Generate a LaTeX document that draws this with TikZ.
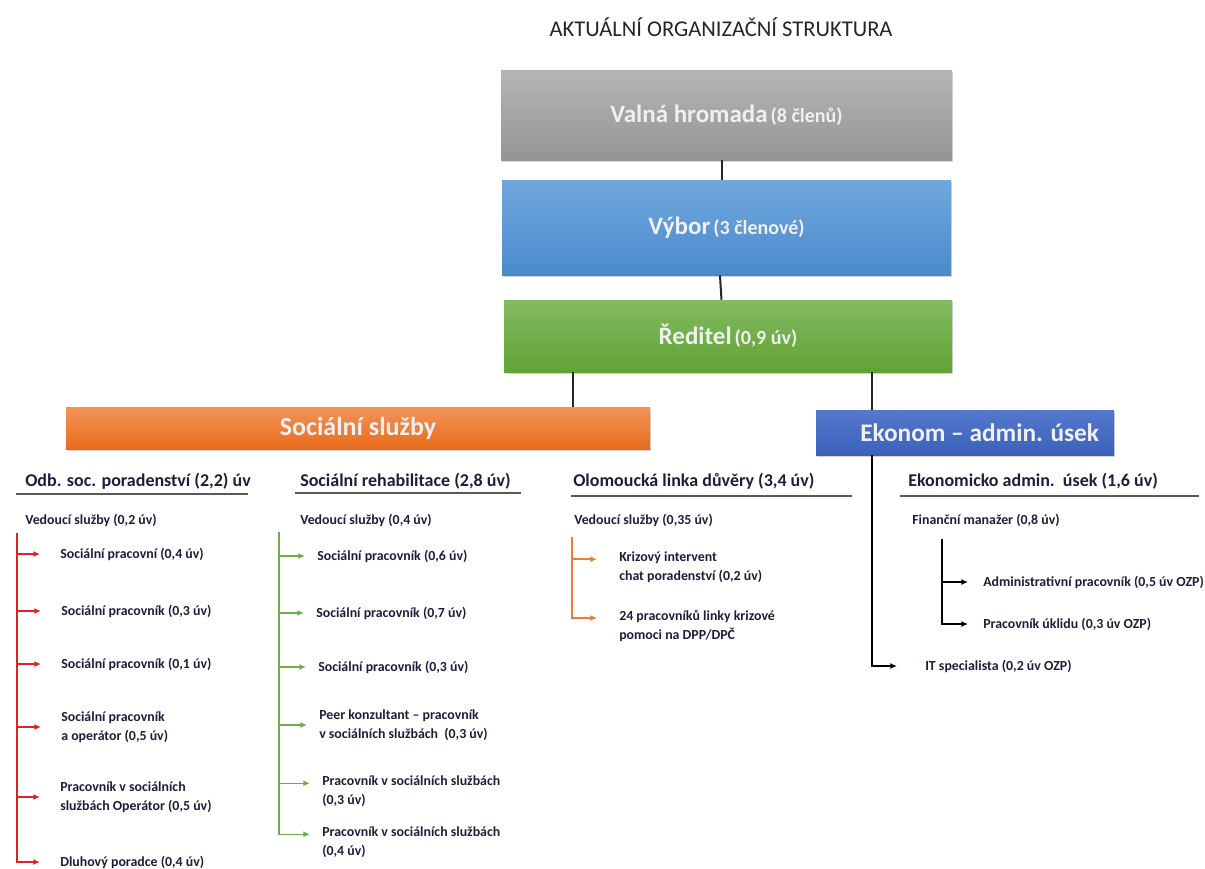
\documentclass[tikz,border=0pt]{standalone}
\usepackage{fontspec}
\setmainfont{Carlito}
\usetikzlibrary{arrows.meta,shadows}

\definecolor{ink}{HTML}{1C1F3B}
\definecolor{redln}{HTML}{E0202A}
\definecolor{greenln}{HTML}{70AD47}
\definecolor{orangeln}{HTML}{ED7D31}
\definecolor{greytop}{HTML}{B5B5B5}
\definecolor{greybot}{HTML}{959595}
\definecolor{bluetop}{HTML}{70A8DE}
\definecolor{bluebot}{HTML}{4A8ACB}
\definecolor{greentop}{HTML}{82BB60}
\definecolor{greenbot}{HTML}{62A235}
\definecolor{orangetop}{HTML}{F29459}
\definecolor{orangebot}{HTML}{E86B1A}
\definecolor{navytop}{HTML}{5378CC}
\definecolor{navybot}{HTML}{3C61BA}

\newcommand{\boxtext}[2]{{\fontsize{18.75}{22}\selectfont #1} {\fontsize{15}{18}\selectfont #2}}

\tikzset{
  orgbox/.style={inner sep=0pt, text=white!94!black, font=\bfseries,
    drop shadow={shadow xshift=1pt, shadow yshift=-1.2pt, opacity=.35}},
  lbl/.style={anchor=west, inner sep=0pt, align=left, text=ink,
    font=\bfseries\fontsize{10.4}{14}\selectfont},
  head/.style={anchor=west, inner sep=0pt, text=ink,
    font=\bfseries\fontsize{13.5}{16}\selectfont},
  hrule/.style={draw=black!65, line width=1.1pt},
  link/.style={draw=black!85, line width=1.5pt},
  tip/.style={-{Latex[length=5pt,width=4.5pt]}},
  redarr/.style={draw=redln, line width=1.1pt, tip, shorten >=15pt},
  greenarr/.style={draw=greenln, line width=1.1pt, tip, shorten >=9pt},
  orangearr/.style={draw=orangeln, line width=1.1pt, tip, shorten >=16.5pt},
  blackarr/.style={draw=black, line width=1.4pt, tip, shorten >=11.25pt},
}

\begin{document}
\begin{tikzpicture}[x=0.75pt,y=-0.75pt]
\useasboundingbox (0,0) rectangle (1205,868);

% title
\node[text=black!85, font=\fontsize{16.9}{20}\selectfont] (title) at (721,27) {AKTUÁLNÍ ORGANIZAČNÍ STRUKTURA};

% top boxes
\node[orgbox, top color=greytop, bottom color=greybot, minimum width=338.25pt, minimum height=67.5pt] (vh) at (726.5,115) {\boxtext{Valná hromada}{(8 členů)}};
\node[orgbox, top color=bluetop, bottom color=bluebot, minimum width=336.75pt, minimum height=71.25pt] (vy) at (726.5,227.5) {\boxtext{Výbor}{(3 členové)}};
\node[orgbox, top color=greentop, bottom color=greenbot, minimum width=336pt, minimum height=54pt] (red) at (728,336) {\boxtext{Ředitel}{(0,9 úv)}};
\node[orgbox, top color=orangetop, bottom color=orangebot, minimum width=438pt, minimum height=31.5pt, font=\bfseries\fontsize{19.5}{22}\selectfont] (soc) at (358,428) {Sociální služby};
\node[orgbox, top color=navytop, bottom color=navybot, minimum width=223.5pt, minimum height=33.75pt, font=\bfseries\fontsize{19}{22}\selectfont] (eko) at (965,432.5) {\hspace*{22pt}Ekonom -- admin. úsek};

\draw[link] ([xshift=-3.4pt]vh.south) -- ([xshift=-3.4pt]vy.north);
\draw[link] ([xshift=-4.9pt]vy.south) -- ([xshift=-4.9pt]red.north);
\draw[link] ([xshift=-116.25pt]red.south) -- ([xshift=161.25pt]soc.north);
\draw[link] ([xshift=108pt]red.south) -- ([xshift=-69.75pt]eko.north);

% column headers
\node[head] (h1) at (25,481) {Odb. soc. poradenství (2,2) úv};
\node[head] (h2) at (300,481) {Sociální rehabilitace (2,8 úv)};
\node[head] (h3) at (573,481) {Olomoucká linka důvěry (3,4 úv)};
\node[head] (h4) at (908,481) {Ekonomicko admin.\ \ úsek (1,6 úv)};
\draw[hrule] (16,494) -- (248,494);
\draw[hrule] (295,493) -- (521,493);
\draw[hrule] (571,496) -- (852,496);
\draw[hrule] (900,496) -- (1199,496);

% Odb. soc. poradenstvi
\node[lbl] (v1) at (25,520) {Vedoucí služby (0,2 úv)};
\coordinate (s1) at (17,533);
\node[lbl] (a1) at (60,554) {Sociální pracovní (0,4 úv)};
\node[lbl] (a2) at (61,611) {Sociální pracovník (0,3 úv)};
\node[lbl] (a3) at (61,664) {Sociální pracovník (0,1 úv)};
\node[lbl] (a4) at (61,727) {Sociální pracovník\\a operátor (0,5 úv)};
\node[lbl] (a5) at (60,797) {Pracovník v sociálních\\službách Operátor (0,5 úv)};
\node[lbl] (a6) at (60,862) {Dluhový poradce (0,4 úv)};
\draw[redarr] (s1) |- (a6.west);
\foreach \i in {1,...,5}
  \draw[redarr] (s1 |- a\i.west) -- (a\i.west);

% Socialni rehabilitace
\node[lbl] (v2) at (300,520) {Vedoucí služby (0,4 úv)};
\coordinate (s2) at (279,532);
\node[lbl] (b1) at (317,556) {Sociální pracovník (0,6 úv)};
\node[lbl] (b2) at (316,613) {Sociální pracovník (0,7 úv)};
\node[lbl] (b3) at (318,667) {Sociální pracovník (0,3 úv)};
\node[lbl] (b4) at (319,725) {Peer konzultant -- pracovník\\v sociálních službách\ \ (0,3 úv)};
\node[lbl] (b5) at (322,791) {Pracovník v sociálních službách\\(0,3 úv)};
\node[lbl] (b6) at (322,842) {Pracovník v sociálních službách\\(0,4 úv)};
\coordinate (b5in) at ([yshift=-5.8pt]b5.north west);
\coordinate (b6in) at ([yshift=-5.8pt]b6.north west);
\draw[greenarr] (s2) |- (b6in);
\foreach \i in {1,...,4}
  \draw[greenarr] (s2 |- b\i.west) -- (b\i.west);
\draw[greenarr] (s2 |- b5in) -- (b5in);

% Olomoucka linka duvery
\node[lbl] (v3) at (574,520) {Vedoucí služby (0,35 úv)};
\coordinate (s3) at (572,537);
\node[lbl] (c1) at (619,567) {Krizový intervent\\chat poradenství (0,2 úv)};
\node[lbl] (c2) at (619,626) {24 pracovníků linky krizové\\pomoci na DPP/DPČ};
\coordinate (c1in) at ([yshift=-5.8pt]c1.north west);
\coordinate (c2in) at ([yshift=-5.8pt]c2.north west);
\draw[orangearr] (s3) |- (c2in);
\draw[orangearr] (s3 |- c1in) -- (c1in);

% Ekonomicko admin. usek
\node[lbl] (v4) at (912,520) {Finanční manažer (0,8 úv)};
\coordinate (f0) at (942,539);
\node[lbl] (d1) at (983,582) {Administrativní pracovník (0,5 úv OZP)};
\node[lbl] (d2) at (983,624) {Pracovník úklidu (0,3 úv OZP)};
\node[lbl] (it) at (925,666) {IT specialista (0,2 úv OZP)};
\draw[blackarr] (f0) |- (d2.west);
\draw[blackarr] (f0 |- d1.west) -- (d1.west);
\draw[blackarr, shorten >=21pt] ([xshift=-69.75pt]eko.south) |- (it.west);

\end{tikzpicture}
\end{document}
